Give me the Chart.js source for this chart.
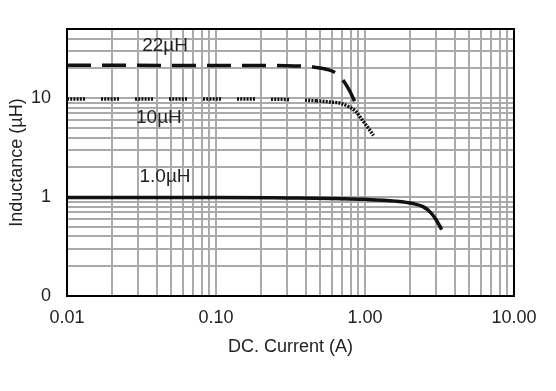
<!DOCTYPE html>
<html>
<head>
<meta charset="utf-8">
<script src="https://cdn.jsdelivr.net/npm/chart.js@4.4.0/dist/chart.umd.min.js"></script>
<style>
html, body { margin: 0; padding: 0; background: #fff; }
#wrap { width: 556px; height: 391px; position: relative; }
</style>
</head>
<body>
<div id="wrap"><canvas id="inductChart"></canvas></div>
<script>
// DC current (A) vs inductance (uH)
const current22 = [0.01, 0.1, 0.3, 0.45, 0.55, 0.65, 0.73, 0.79, 0.86];
const induct22  = [21.5, 21.4, 21.3, 20.6, 19.6, 17.6, 14.4, 11.8, 9.0];

const current10 = [0.01, 0.1, 0.3, 0.47, 0.6, 0.68, 0.79, 0.87, 0.93, 1.03, 1.14];
const induct10  = [9.8, 9.8, 9.7, 9.4, 9.1, 8.9, 8.1, 7.3, 6.4, 5.2, 4.2];

const current1 = [0.01, 0.1, 0.3, 0.6, 1.0, 1.6, 2.1, 2.45, 2.75, 3.0, 3.27];
const induct1  = [0.99, 0.99, 0.98, 0.97, 0.95, 0.91, 0.86, 0.80, 0.70, 0.59, 0.47];

const seriesNames = ['22µH', '10µH', '1.0µH'];

const xTicks = [0.01, 0.02, 0.03, 0.04, 0.05, 0.06, 0.07, 0.08, 0.09,
                0.1, 0.2, 0.3, 0.4, 0.5, 0.6, 0.7, 0.8, 0.9,
                1, 2, 3, 4, 5, 6, 7, 8, 9, 10];
const xLabelValues = [0.01, 0.1, 1, 10];
const xLabelText = ['0.01', '0.10', '1.00', '10.00'];

const yTicks = [0.1, 0.2, 0.3, 0.4, 0.5, 0.6, 0.7, 0.8, 0.9,
                1, 2, 3, 4, 5, 6, 7, 8, 9,
                10, 20, 30, 40, 50];
const yLabelValues = [0.1, 1, 10];
const yLabelText = ['0', '1', '10'];

// where the curve names sit, in data units (A, uH)
const nameAnchorX = [0.0455, 0.0414, 0.0455];
const nameAnchorY = [33.5, 6.4, 1.59];

const pts = (xs, ys) => xs.map((x, i) => ({ x: x, y: ys[i] }));
const pickLabel = (vals, txt) => (value) => {
    const i = vals.findIndex(v => Math.abs(v - value) < 1e-9);
    return i >= 0 ? txt[i] : '';
};

const frameBox = {
    id: 'frameBox',
    beforeDatasetsDraw(chart) {
        const { ctx, chartArea: a } = chart;
        ctx.save();
        ctx.strokeStyle = '#000';
        ctx.lineWidth = 2;
        ctx.strokeRect(a.left, a.top, a.right - a.left, a.bottom - a.top);
        ctx.restore();
    }
};

const curveNames = {
    id: 'curveNames',
    afterDatasetsDraw(chart) {
        const { ctx, scales } = chart;
        ctx.save();
        ctx.font = '19px "Liberation Sans", Arial, sans-serif';
        ctx.fillStyle = '#222';
        ctx.textAlign = 'center';
        ctx.textBaseline = 'middle';
        seriesNames.forEach((name, i) => {
            ctx.fillText(name, scales.x.getPixelForValue(nameAnchorX[i]),
                         scales.y.getPixelForValue(nameAnchorY[i]));
        });
        ctx.restore();
    }
};

const axisFont = { family: '"Liberation Sans", Arial, sans-serif', size: 18 };

new Chart(document.getElementById('inductChart').getContext('2d'), {
    type: 'line',
    data: {
        datasets: [{
            label: seriesNames[0],
            data: pts(current22, induct22),
            borderColor: '#111',
            borderWidth: 3.5,
            borderDash: [24, 11],
            pointRadius: 0,
            cubicInterpolationMode: 'monotone'
        }, {
            label: seriesNames[1],
            data: pts(current10, induct10),
            borderColor: '#111',
            borderWidth: 3.5,
            borderDash: [2, 1.2, 2, 1.2, 2, 1.2, 2, 1.2, 2, 1.2, 2, 16],
            segment: {
                borderDash: ctx => ctx.p0.parsed.x >= 0.45 ? [2, 1.2] : undefined
            },
            pointRadius: 0,
            cubicInterpolationMode: 'monotone'
        }, {
            label: seriesNames[2],
            data: pts(current1, induct1),
            borderColor: '#111',
            borderWidth: 3.5,
            pointRadius: 0,
            cubicInterpolationMode: 'monotone'
        }]
    },
    options: {
        responsive: true,
        maintainAspectRatio: false,
        animation: false,
        layout: { padding: { top: 29, right: 42, left: 0, bottom: 0 } },
        plugins: { legend: { display: false }, tooltip: { enabled: false } },
        scales: {
            x: {
                type: 'logarithmic',
                min: 0.01,
                max: 10,
                afterBuildTicks: s => { s.ticks = xTicks.map(v => ({ value: v })); },
                afterFit: s => { s.height = 95; },
                grid: { color: '#aaaaaa', lineWidth: 2, drawTicks: false },
                border: { color: '#000', width: 2 },
                ticks: {
                    autoSkip: false,
                    maxRotation: 0,
                    padding: 11,
                    color: '#222',
                    font: axisFont,
                    callback: pickLabel(xLabelValues, xLabelText)
                },
                title: {
                    display: true,
                    text: 'DC. Current (A)',
                    color: '#222',
                    font: axisFont,
                    padding: { bottom: 33 }
                }
            },
            y: {
                type: 'logarithmic',
                min: 0.1,
                max: 50,
                afterBuildTicks: s => { s.ticks = yTicks.map(v => ({ value: v })); },
                afterFit: s => { s.width = 67; },
                grid: { color: '#aaaaaa', lineWidth: 2, drawTicks: false },
                border: { color: '#000', width: 2 },
                ticks: {
                    autoSkip: false,
                    padding: 16,
                    color: '#222',
                    font: axisFont,
                    callback: pickLabel(yLabelValues, yLabelText)
                },
                title: {
                    display: true,
                    text: 'Inductance (µH)',
                    color: '#222',
                    font: axisFont,
                    padding: { top: 6 }
                }
            }
        }
    },
    plugins: [frameBox, curveNames]
});
</script>
</body>
</html>
